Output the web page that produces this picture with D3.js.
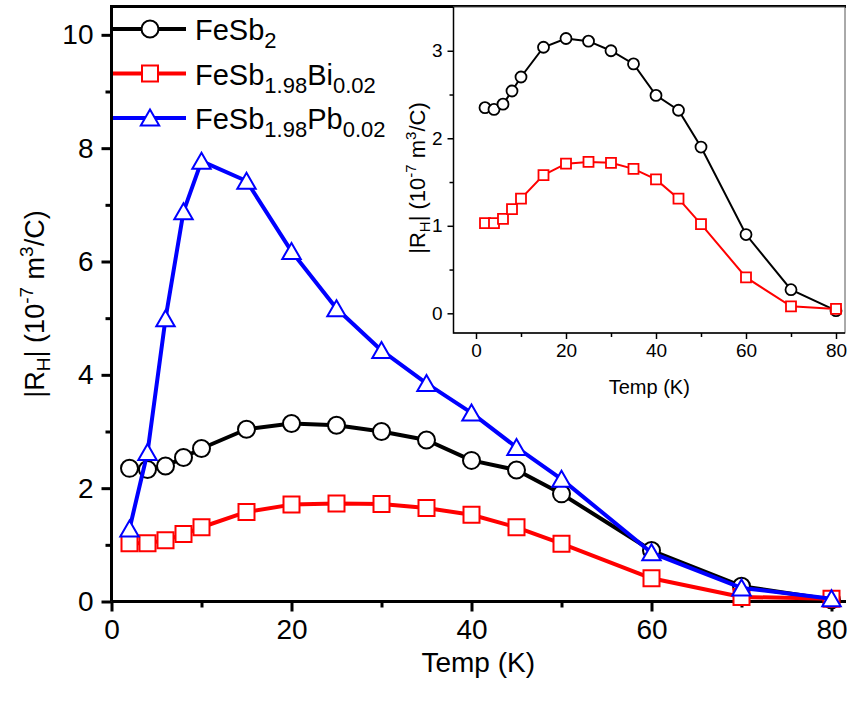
<!DOCTYPE html>
<html>
<head>
<meta charset="utf-8">
<script src="https://cdn.jsdelivr.net/npm/d3@7"></script>
<style>
  body { margin: 0; background: #fff; }
  svg { font-family: "Liberation Sans", Arial, sans-serif; }
</style>
</head>
<body>
<svg id="chart" width="847" height="704"></svg>
<script>
// DATA
const temps = [2, 4, 6, 8, 10, 15, 20, 25, 30, 35, 40, 45, 50, 60, 70, 80];
const fesb2 = [2.35, 2.33, 2.39, 2.54, 2.70, 3.04, 3.14, 3.11, 3.00, 2.85, 2.49, 2.32, 1.90, 0.90, 0.27, 0.03];
const fesbBi = [1.03, 1.03, 1.08, 1.19, 1.31, 1.58, 1.71, 1.73, 1.72, 1.65, 1.53, 1.31, 1.02, 0.41, 0.08, 0.05];
const fesbPb = [1.28, 2.63, 4.99, 6.88, 7.77, 7.42, 6.18, 5.17, 4.43, 3.85, 3.33, 2.72, 2.16, 0.86, 0.24, 0.05];

const xTicks = [0, 20, 40, 60, 80];
const xMinor = [10, 30, 50, 70];
const yTicks = [0, 2, 4, 6, 8, 10];
const yMinor = [1, 3, 5, 7, 9];
const insetYTicks = [0, 1, 2, 3];
const insetYMinor = [0.5, 1.5, 2.5];

const series = [
  { name: 'FeSb2', values: fesb2, color: '#000000', marker: 'circle', sub: [['FeSb', false], ['2', true]] },
  { name: 'Bi', values: fesbBi, color: '#ff0000', marker: 'square', sub: [['FeSb', false], ['1.98', true], ['Bi', false], ['0.02', true]] },
  { name: 'Pb', values: fesbPb, color: '#0000ff', marker: 'triangle', sub: [['FeSb', false], ['1.98', true], ['Pb', false], ['0.02', true]] },
];

const svg = d3.select('#chart');

// SCALES
const x = d3.scaleLinear().domain([0, 81.5]).range([111.5, 845]);
const y = d3.scaleLinear().domain([0, 10.5]).range([601.5, 6.5]);

const xi = d3.scaleLinear().domain([-5, 82]).range([453.5, 845]);
const yi = d3.scaleLinear().domain([-0.225, 3.5]).range([333, 7]);

function markerPath(type, s) {
  if (type === 'square') return `M${-s},${-s}H${s}V${s}H${-s}Z`;
  if (type === 'triangle') return `M0,${-s * 1.05}L${s * 1.15},${s * 0.95}L${-s * 1.15},${s * 0.95}Z`;
  return null;
}

function drawMarker(g, type, cx, cy, s, color, sw) {
  if (type === 'circle') {
    g.append('circle').attr('cx', cx).attr('cy', cy).attr('r', s)
      .attr('fill', '#fff').attr('stroke', color).attr('stroke-width', sw);
  } else {
    g.append('path').attr('d', markerPath(type, s))
      .attr('transform', `translate(${cx},${cy})`)
      .attr('fill', '#fff').attr('stroke', color).attr('stroke-width', sw);
  }
}

// adds "|R_H| (10^-7 m^3/C)" with sub/superscripts
function rhTitle(t, big, small, dn, up) {
  t.append('tspan').text('|R');
  t.append('tspan').attr('font-size', small).attr('dy', dn).text('H');
  t.append('tspan').attr('dy', -dn).text('| (10');
  t.append('tspan').attr('font-size', small).attr('dy', -up).text('-7');
  t.append('tspan').attr('dy', up).text(' m');
  t.append('tspan').attr('font-size', small).attr('dy', -up).text('3');
  t.append('tspan').attr('dy', up).text('/C)');
  t.attr('font-size', big);
}

//MAIN AXES
const xAxis = d3.axisBottom(x).tickValues(xTicks).tickSize(10).tickPadding(8).tickFormat(d3.format('d'));
const gx = svg.append('g').attr('transform', `translate(0,${y(0)})`).call(xAxis);
gx.append('g').call(d3.axisBottom(x).tickValues(xMinor).tickSize(6).tickFormat(''));

const yAxis = d3.axisLeft(y).tickValues(yTicks).tickSize(10).tickPadding(8).tickFormat(d3.format('d'));
const gy = svg.append('g').attr('transform', `translate(${x(0)},0)`).call(yAxis);
gy.append('g').call(d3.axisLeft(y).tickValues(yMinor).tickSize(6).tickFormat(''));

[gx, gy].forEach((g) => {
  g.selectAll('.domain').remove();
  g.selectAll('line').attr('stroke', '#000').attr('stroke-width', 3);
  g.selectAll('text').attr('font-size', 28).attr('fill', '#000').attr('font-family', '"Liberation Sans", Arial, sans-serif');
});

svg.append('path')
  .attr('d', `M${x(0)},${y(0)}H846M${x(0)},${y(0)}V${y(10.5)}H846`)
  .attr('fill', 'none').attr('stroke', '#000').attr('stroke-width', 3);

// AXIS TITLES
svg.append('text')
  .attr('x', (x(0) + 845) / 2).attr('y', 672)
  .attr('text-anchor', 'middle').attr('font-size', 28)
  .text('Temp (K)');

const yTitle = svg.append('text')
  .attr('transform', `translate(44,${(y(0) + y(10.5)) / 2}) rotate(-90)`)
  .attr('text-anchor', 'middle');
rhTitle(yTitle, 27, 19, 6, 11);

// MAIN LINES
const line = (sx, sy) => d3.line().x((d, i) => sx(temps[i])).y((d) => sy(d));

series.forEach((s) => {
  const g = svg.append('g');
  g.append('path').datum(s.values)
    .attr('d', line(x, y))
    .attr('fill', 'none').attr('stroke', s.color).attr('stroke-width', 4).attr('stroke-linejoin', 'round');
  const size = s.marker === 'circle' ? 8.5 : 8;
  s.values.forEach((v, i) => drawMarker(g, s.marker, x(temps[i]), y(v), size, s.color, 2));
});

// LEGEND
const legendY = [29, 73.5, 118];
series.forEach((s, k) => {
  const g = svg.append('g');
  g.append('line').attr('x1', 113).attr('x2', 186).attr('y1', legendY[k]).attr('y2', legendY[k])
    .attr('stroke', s.color).attr('stroke-width', 4);
  drawMarker(g, s.marker, 150, legendY[k], s.marker === 'circle' ? 8.5 : 8, s.color, 2);
  const t = g.append('text').attr('x', 195).attr('y', legendY[k] + 11).attr('font-size', 29);
  let down = false;
  s.sub.forEach(([txt, isSub]) => {
    const ts = t.append('tspan').text(txt);
    if (isSub) {
      ts.attr('font-size', 22);
      if (!down) { ts.attr('dy', 8); down = true; }
    } else if (down) {
      ts.attr('dy', -8); down = false;
    }
  });
});

// INSET
const inset = svg.append('g');
inset.append('rect')
  .attr('x', xi(-5)).attr('y', yi(3.5))
  .attr('width', xi(82) - xi(-5)).attr('height', yi(-0.225) - yi(3.5))
  .attr('fill', '#fff').attr('stroke', '#555').attr('stroke-width', 1);

const ixAxis = d3.axisBottom(xi).tickValues(xTicks).tickSize(6).tickPadding(5).tickFormat(d3.format('d'));
const gix = inset.append('g').attr('transform', `translate(0,${yi(-0.225)})`).call(ixAxis);
gix.append('g').call(d3.axisBottom(xi).tickValues(xMinor).tickSize(4).tickFormat(''));

const iyAxis = d3.axisLeft(yi).tickValues(insetYTicks).tickSize(6).tickPadding(5).tickFormat(d3.format('d'));
const giy = inset.append('g').attr('transform', `translate(${xi(-5)},0)`).call(iyAxis);
giy.append('g').call(d3.axisLeft(yi).tickValues(insetYMinor).tickSize(4).tickFormat(''));

[gix, giy].forEach((g) => {
  g.selectAll('.domain').remove();
  g.selectAll('line').attr('stroke', '#000').attr('stroke-width', 1.5);
  g.selectAll('text').attr('font-size', 19).attr('fill', '#000').attr('font-family', '"Liberation Sans", Arial, sans-serif');
});

inset.append('path')
  .attr('d', `M${xi(-5)},${yi(3.5)}V${yi(-0.225)}H${xi(82)}`)
  .attr('fill', 'none').attr('stroke', '#000').attr('stroke-width', 1.5);

inset.append('text')
  .attr('x', (xi(-5) + xi(82)) / 2).attr('y', 394)
  .attr('text-anchor', 'middle').attr('font-size', 20)
  .text('Temp (K)');

const iyTitle = inset.append('text')
  .attr('transform', `translate(425,178) rotate(-90)`)
  .attr('text-anchor', 'middle');
rhTitle(iyTitle, 22, 15, 5, 9);

[series[0], series[1]].forEach((s) => {
  const g = inset.append('g');
  g.append('path').datum(s.values)
    .attr('d', line(xi, yi))
    .attr('fill', 'none').attr('stroke', s.color).attr('stroke-width', 2);
  s.values.forEach((v, i) => drawMarker(g, s.marker, xi(temps[i]), yi(v), s.marker === 'circle' ? 5.5 : 5, s.color, 1.8));
});
</script>
</body>
</html>
